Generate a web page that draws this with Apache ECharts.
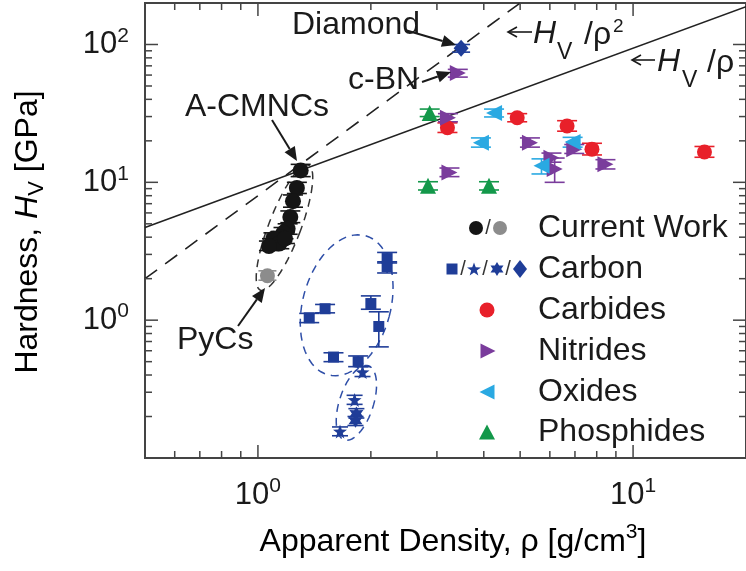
<!DOCTYPE html>
<html>
<head>
<meta charset="utf-8">
<script src="https://cdn.jsdelivr.net/npm/echarts@6/dist/echarts.min.js"></script>
<style>
  html, body { margin: 0; padding: 0; background: #fff; }
  #main { width: 746px; height: 571px; }
</style>
</head>
<body>
<div id="main"></div>
<script>
// each point: [density g/cm3, hardness GPa, error low, error high]
const currentWork = [
  [1.30, 12.2, 11.0, 13.5], [1.27, 9.1, 8.3, 10.0], [1.24, 7.3, 6.6, 8.1], [1.22, 5.6, 5.1, 6.2],
  [1.20, 4.6, 4.2, 5.0], [1.17, 4.3, 3.9, 4.7], [1.15, 4.0, 3.6, 4.4], [1.12, 3.8, 3.5, 4.2],
  [1.09, 3.6, 3.3, 3.9], [1.10, 3.9, 3.6, 4.3], [1.14, 3.6, 3.3, 3.9], [1.18, 3.9, 3.6, 4.3], [1.07, 3.45, 3.2, 3.75]
];
const pyCs = [[1.06, 2.1, 1.95, 2.28]];
const carbonSquare = [
  [2.21, 2.8, 2.6, 3.1], [2.21, 2.45, 2.2, 2.65], [2.0, 1.32, 1.2, 1.5], [2.1, 0.9, 0.64, 1.15],
  [1.51, 1.21, 1.13, 1.3], [1.37, 1.04, 0.96, 1.12], [1.59, 0.54, 0.5, 0.58], [1.85, 0.5, 0.46, 0.55]
];
const carbonStar = [[1.90, 0.42, 0.39, 0.46], [1.81, 0.264, 0.245, 0.285], [1.655, 0.156, 0.145, 0.168]];
const carbonAsterisk = [[1.83, 0.21, 0.195, 0.228], [1.82, 0.186, 0.172, 0.2]];
const carbonDiamond = [[3.48, 94, 88, 100]];
const carbides = [[3.2, 24.9, 23, 27], [4.91, 29.4, 27.5, 31.5], [6.67, 25.6, 23.5, 28], [7.77, 17.4, 15.8, 19.2], [15.5, 16.6, 15.2, 18.2]];
const nitrides = [
  [3.41, 62, 58, 66], [3.21, 29.4, 27.5, 31.5], [5.31, 19.4, 18, 21], [6.06, 15.1, 14, 16.3],
  [6.18, 12.5, 10.0, 15], [6.97, 17.4, 16.2, 18.8], [8.44, 13.5, 12.5, 14.6], [3.24, 11.8, 11, 12.7]
];
const oxides = [[4.26, 31.9, 29.8, 34], [3.93, 19.4, 18, 21], [6.9, 19.6, 18, 21.2], [5.7, 13.2, 11.5, 14.8]];
const phosphides = [[2.87, 31.9, 30, 34], [2.84, 9.43, 8.8, 10.1], [4.13, 9.43, 8.8, 10.1]];

// guide lines H_V/rho and H_V/rho^2 (end points)
const lineRho = [[0.5, 4.7], [20, 188]];
const lineRho2 = [[0.5, 2.0], [5.0, 200]];

// axis ticks
const xMajorTicks = [1, 10];
const xMinorTicks = [0.6, 0.7, 0.8, 0.9, 2, 3, 4, 5, 6, 7, 8, 9];
const yMajorTicks = [1, 10, 100];
const yMinorTicks = [0.2, 0.3, 0.4, 0.5, 0.6, 0.7, 0.8, 0.9, 2, 3, 4, 5, 6, 7, 8, 9, 20, 30, 40, 50, 60, 70, 80, 90];

const legendLabels = ['Current Work', 'Carbon', 'Carbides', 'Nitrides', 'Oxides', 'Phosphides'];

const FONT = '"Liberation Sans", Arial, Helvetica, sans-serif';
const C = {
  black: '#151515', grey: '#8c8c8c', blue: '#1f3d98', red: '#e8202a',
  purple: '#7a3c9c', cyan: '#2aa9e2', green: '#13984a', dashBlue: '#2f4fa8'
};
const P = {
  star5: 'M50,0L61.8,33.8L97.6,34.5L69,56.2L79.4,90.5L50,70L20.6,90.5L31,56.2L2.4,34.5L38.2,33.8Z',
  star6: 'M50,0L64,25.8L93.3,25L78,50L93.3,75L64,74.2L50,100L36,74.2L6.7,75L22,50L6.7,25L36,25.8Z',
  diamond: 'M50,0L100,50L50,100L0,50Z',
  square: 'M0,0L100,0L100,100L0,100Z',
  triUp: 'M50,0L100,90L0,90Z',
  triRight: 'M0,0L90,50L0,100Z',
  triLeft: 'M90,0L0,50L90,100Z'
};

function xy(arr) { return arr.map(d => [d[0], d[1]]); }

function errorBars(arr, color, capW) {
  return {
    type: 'custom', silent: true, z: 3, data: arr,
    encode: { x: 0, y: 1 },
    renderItem: function (params, api) {
      const x = api.value(0);
      const lo = api.coord([x, api.value(2)]);
      const hi = api.coord([x, api.value(3)]);
      const w = capW / 2;
      const st = { stroke: color, lineWidth: 1.6 };
      return {
        type: 'group', children: [
          { type: 'line', shape: { x1: lo[0], y1: lo[1], x2: hi[0], y2: hi[1] }, style: st },
          { type: 'line', shape: { x1: lo[0] - w, y1: lo[1], x2: lo[0] + w, y2: lo[1] }, style: st },
          { type: 'line', shape: { x1: hi[0] - w, y1: hi[1], x2: hi[0] + w, y2: hi[1] }, style: st }
        ]
      };
    }
  };
}

function points(name, arr, symbol, size, color) {
  return {
    name: name, type: 'scatter', z: 5, data: xy(arr),
    symbol: symbol, symbolSize: size,
    itemStyle: { color: color, opacity: 1 }
  };
}

// dashed grouping ellipses, centre in data units, axes in pixels
const ellipses = [
  { c: [1.177, 4.69], a: 67, b: 16, rot: 21, color: '#333' },
  { c: [1.724, 1.283], a: 72, b: 44, rot: 15, color: C.dashBlue },
  { c: [1.83, 0.251], a: 39, b: 17, rot: 18, color: C.dashBlue }
];

function ellipseSeries() {
  return {
    type: 'custom', silent: true, z: 2,
    data: ellipses.map(e => e.c),
    renderItem: function (params, api) {
      const e = ellipses[params.dataIndex];
      const ctr = api.coord([api.value(0), api.value(1)]);
      const r = e.rot * Math.PI / 180;
      const pts = [];
      for (let i = 0; i <= 72; i++) {
        const t = i / 72 * Math.PI * 2;
        const ex = e.b * Math.cos(t), ey = -e.a * Math.sin(t);
        pts.push([ctr[0] + ex * Math.cos(r) - ey * Math.sin(r), ctr[1] + ex * Math.sin(r) + ey * Math.cos(r)]);
      }
      return {
        type: 'polyline', shape: { points: pts },
        style: { fill: 'none', stroke: e.color, lineWidth: 1.5, lineDash: [8, 6] }
      };
    }
  };
}

function tickSeries() {
  return {
    type: 'custom', silent: true, z: 6, data: [[1, 1]],
    renderItem: function (params, api) {
      const cs = params.coordSys;
      const kids = [];
      const st = { stroke: '#444', lineWidth: 1.5 };
      const addX = (v, len) => {
        const px = api.coord([v, 1])[0];
        kids.push({ type: 'line', shape: { x1: px, y1: cs.y + cs.height, x2: px, y2: cs.y + cs.height - len }, style: st });
        kids.push({ type: 'line', shape: { x1: px, y1: cs.y, x2: px, y2: cs.y + len }, style: st });
      };
      const addY = (v, len) => {
        const py = api.coord([1, v])[1];
        kids.push({ type: 'line', shape: { x1: cs.x, y1: py, x2: cs.x + len, y2: py }, style: st });
        kids.push({ type: 'line', shape: { x1: cs.x + cs.width, y1: py, x2: cs.x + cs.width - len, y2: py }, style: st });
      };
      xMajorTicks.forEach(v => addX(v, 13));
      xMinorTicks.forEach(v => addX(v, 7));
      yMajorTicks.forEach(v => addY(v, 13));
      yMinorTicks.forEach(v => addY(v, 7));
      return { type: 'group', children: kids };
    }
  };
}

function powLabel(v) {
  const e = Math.round(Math.log10(v));
  if (Math.abs(Math.log10(v) - e) > 1e-6 || e < 0) return '';
  return '{b|10}{s|' + e + '}';
}
const tickRich = {
  b: { fontSize: 31, lineHeight: 38, fontFamily: FONT, color: '#1a1a1a' },
  s: { fontSize: 21, lineHeight: 21, fontFamily: FONT, color: '#1a1a1a', verticalAlign: 'top' }
};

// ---- annotation graphics ----
function txt(text, x, y, size, extra) {
  return {
    type: 'text', x: x, y: y, z: 20,
    style: Object.assign({
      text: text, font: size + 'px ' + FONT, fill: '#1a1a1a',
      align: 'left', verticalAlign: 'middle', textAlign: 'left', textVerticalAlign: 'middle'
    }, extra || {})
  };
}
function arrow(x1, y1, x2, y2, open) {
  const ang = Math.atan2(y2 - y1, x2 - x1);
  const L = open ? 9 : 14, W = open ? 5 : 6;
  const bx = x2 - L * Math.cos(ang), by = y2 - L * Math.sin(ang);
  const px = -Math.sin(ang) * W, py = Math.cos(ang) * W;
  const out = [{ type: 'line', z: 20, shape: { x1: x1, y1: y1, x2: open ? x2 : bx, y2: open ? y2 : by }, style: { stroke: '#1a1a1a', lineWidth: open ? 1.6 : 2 } }];
  if (open) {
    out.push({ type: 'polyline', z: 20, shape: { points: [[bx + px, by + py], [x2, y2], [bx - px, by - py]] }, style: { stroke: '#1a1a1a', lineWidth: 1.6, fill: 'none' } });
  } else {
    out.push({ type: 'polygon', z: 20, shape: { points: [[x2, y2], [bx + px, by + py], [bx - px, by - py]] }, style: { fill: '#1a1a1a' } });
  }
  return out;
}
// legend marker: turn one of the simple M/L paths above into a polygon fitted in a box
function mark(d, cx, cy, w, h, color) {
  const nums = d.match(/-?[\d.]+/g).map(Number);
  const pts = [];
  for (let i = 0; i < nums.length; i += 2) pts.push([nums[i], nums[i + 1]]);
  const xs = pts.map(p => p[0]), ys = pts.map(p => p[1]);
  const x0 = Math.min(...xs), x1 = Math.max(...xs), y0 = Math.min(...ys), y1 = Math.max(...ys);
  const scaled = pts.map(p => [cx - w / 2 + (p[0] - x0) / (x1 - x0) * w, cy - h / 2 + (p[1] - y0) / (y1 - y0) * h]);
  return { type: 'polygon', z: 20, shape: { points: scaled }, style: { fill: color } };
}
function dot(cx, cy, r, color) {
  return { type: 'circle', z: 20, shape: { cx: cx, cy: cy, r: r }, style: { fill: color } };
}
function slash(x, y) { return txt('/', x, y, 20, { align: 'center', textAlign: 'center', fill: '#333' }); }

const rowY = [228, 269, 310, 351, 392, 432];
const graphics = [].concat(
  [
    txt('Diamond', 292, 25, 32),
    txt('c-BN', 348, 80, 32),
    txt('A-CMNCs', 185, 107, 32),
    txt('PyCs', 177, 340, 32)
  ],
  arrow(405, 30, 456, 45, false),
  arrow(422, 82, 451, 72, false),
  arrow(272, 120, 297, 161, false),
  arrow(238, 326, 265, 288, false),
  arrow(532, 32, 508, 32, true),
  arrow(655, 60, 632, 60, true),
  [
    txt('H', 533, 34, 32, { font: 'italic 32px ' + FONT }),
    txt('V', 557, 53, 23),
    txt('/ρ', 584, 35, 32),
    txt('2', 613, 27, 19),
    txt('H', 657, 62, 32, { font: 'italic 32px ' + FONT }),
    txt('V', 682, 81, 23),
    txt('/ρ', 707, 63, 32)
  ],
  // legend
  [
    dot(476, rowY[0], 7, C.black), slash(488, rowY[0]), dot(500, rowY[0], 7, C.grey),
    mark(P.square, 452, rowY[1], 11, 11, C.blue), slash(463, rowY[1]),
    mark(P.star5, 474, rowY[1], 14, 13, C.blue), slash(485, rowY[1]),
    mark(P.star6, 497, rowY[1], 13, 14, C.blue), slash(508, rowY[1]),
    mark(P.diamond, 520, rowY[1], 14, 18, C.blue),
    dot(487, rowY[2], 7.5, C.red),
    mark(P.triRight, 488, rowY[3], 15, 15, C.purple),
    mark(P.triLeft, 487, rowY[4], 15, 15, C.cyan),
    mark(P.triUp, 487, rowY[5], 16, 15, C.green)
  ],
  legendLabels.map((t, i) => txt(t, 538, rowY[i], 32)),
  [
    {
      type: 'text', x: 28, y: 232, rotation: Math.PI / 2, z: 20,
      style: {
        text: '{n|Hardness, }{i|H}{s|V}{n| [GPa]}',
        align: 'center', verticalAlign: 'middle', textAlign: 'center', textVerticalAlign: 'middle',
        rich: {
          n: { fontSize: 32, lineHeight: 40, fontFamily: FONT, color: '#1a1a1a' },
          i: { fontSize: 32, lineHeight: 40, fontFamily: FONT, fontStyle: 'italic', color: '#1a1a1a' },
          s: { fontSize: 22, lineHeight: 22, fontFamily: FONT, color: '#1a1a1a', verticalAlign: 'bottom' }
        }
      }
    },
    {
      type: 'text', x: 453, y: 542, z: 20,
      style: {
        text: '{n|Apparent Density, ρ [g/cm}{p|3}{n|]}',
        align: 'center', verticalAlign: 'middle', textAlign: 'center', textVerticalAlign: 'middle',
        rich: {
          n: { fontSize: 32, lineHeight: 40, fontFamily: FONT, color: '#1a1a1a' },
          p: { fontSize: 21, lineHeight: 21, fontFamily: FONT, color: '#1a1a1a', verticalAlign: 'top' }
        }
      }
    }
  ]
);

const chart = echarts.init(document.getElementById('main'));
chart.setOption({
  animation: false,
  backgroundColor: '#fff',
  grid: { left: 145, top: 3, right: -10, bottom: 113, show: true, borderColor: '#444', borderWidth: 2, backgroundColor: 'transparent' },
  xAxis: {
    type: 'log', logBase: 10, min: 0.5, max: 20,
    axisLine: { show: false }, axisTick: { show: false }, splitLine: { show: false },
    axisLabel: { formatter: powLabel, rich: tickRich, margin: 18, showMinLabel: false, showMaxLabel: false }
  },
  yAxis: {
    type: 'log', logBase: 10, min: 0.1, max: 200,
    axisLine: { show: false }, axisTick: { show: false }, splitLine: { show: false },
    axisLabel: { formatter: powLabel, rich: tickRich, margin: 16, showMaxLabel: false }
  },
  series: [
    tickSeries(),
    ellipseSeries(),
    { type: 'line', data: lineRho, showSymbol: false, silent: true, z: 2, lineStyle: { color: '#222', width: 1.6 } },
    { type: 'line', data: lineRho2, showSymbol: false, silent: true, z: 2, lineStyle: { color: '#222', width: 1.6, type: [15, 10] } },
    errorBars(currentWork, C.black, 20),
    errorBars(pyCs, C.grey, 18),
    errorBars(carbonSquare, C.blue, 20),
    errorBars(carbonStar, C.blue, 16),
    errorBars(carbonAsterisk, C.blue, 16),
    errorBars(carbonDiamond, C.blue, 18),
    errorBars(carbides, C.red, 20),
    errorBars(nitrides, C.purple, 20),
    errorBars(oxides, C.cyan, 20),
    errorBars(phosphides, C.green, 20),
    points('Current Work', currentWork, 'circle', 16, C.black),
    points('PyCs', pyCs, 'circle', 15, C.grey),
    points('Carbon', carbonSquare, 'path://' + P.square, 11, C.blue),
    points('Carbon star', carbonStar, 'path://' + P.star5, 14, C.blue),
    points('Carbon asterisk', carbonAsterisk, 'path://' + P.star6, 14, C.blue),
    points('Diamond', carbonDiamond, 'path://' + P.diamond, [15, 17], C.blue),
    points('Carbides', carbides, 'circle', 15, C.red),
    points('Nitrides', nitrides, 'path://' + P.triRight, 16, C.purple),
    points('Oxides', oxides, 'path://' + P.triLeft, 16, C.cyan),
    points('Phosphides', phosphides, 'path://' + P.triUp, 16, C.green)
  ],
  graphic: { elements: graphics }
});
</script>
</body>
</html>
